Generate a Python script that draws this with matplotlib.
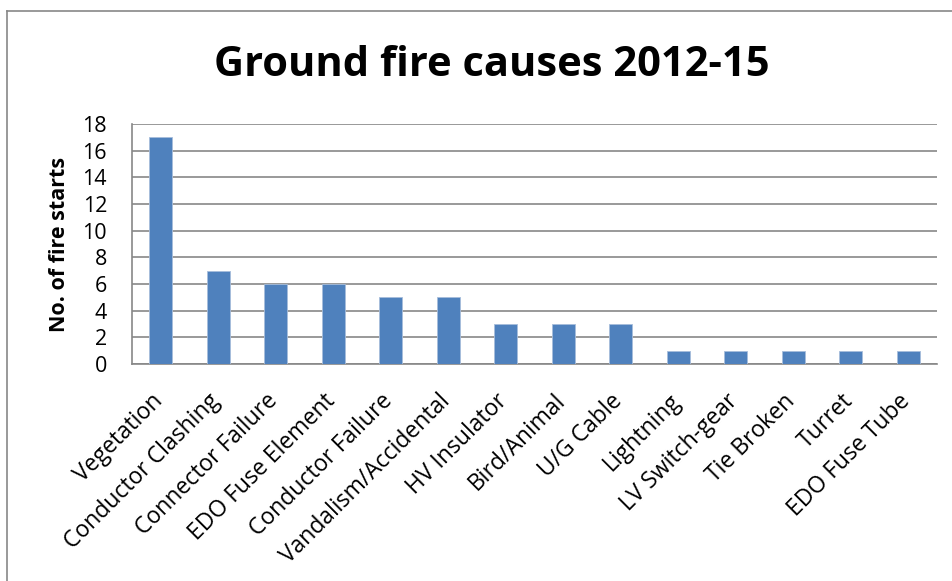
import matplotlib
matplotlib.use("Agg")
import matplotlib.pyplot as plt
from matplotlib.transforms import ScaledTranslation

categories = ["Vegetation", "Conductor Clashing", "Connector Failure", "EDO Fuse Element",
              "Conductor Failure", "Vandalism/Accidental", "HV Insulator", "Bird/Animal",
              "U/G Cable", "Lightning", "LV Switch-gear", "Tie Broken", "Turret", "EDO Fuse Tube"]
values = [17, 7, 6, 6, 5, 5, 3, 3, 3, 1, 1, 1, 1, 1]
yticks = list(range(0, 19, 2))

plt.rcParams['font.family'] = ['Open Sans', 'DejaVu Sans']

fig = plt.figure(figsize=(9.52, 5.81), dpi=100)
W, H = 952, 581
ax = fig.add_axes([132 / W, 1 - 364 / H, (937 - 132) / W, (364 - 124) / H])

x = list(range(len(categories)))
ax.bar(x, values, width=0.4, color='#4F81BD', edgecolor='#A7BDDB', linewidth=0.6, zorder=3)
ax.set_xlim(-0.5, len(categories) - 0.5)
ax.set_ylim(0, 18)
ax.set_yticks(yticks)
ax.set_yticklabels([str(t) for t in yticks], fontsize=15.5)
ax.yaxis.grid(True, color='#878787', linewidth=1.2, zorder=0)
ax.set_axisbelow(True)
ax.tick_params(axis='y', length=0, pad=18)
ax.tick_params(axis='x', length=0, pad=18)
ax.set_xticks(x)
ax.set_xticklabels(categories, rotation=45, ha='right', va='top', rotation_mode='anchor', fontsize=16.5)
offset = ScaledTranslation(-0.10, 0, fig.dpi_scale_trans)
for lbl in ax.get_xticklabels():
    lbl.set_transform(lbl.get_transform() + offset)
for s in ['top', 'right']:
    ax.spines[s].set_visible(False)
ax.spines['left'].set_color('#878787')
ax.spines['left'].set_linewidth(1.2)
ax.spines['bottom'].set_color('#878787')
ax.spines['bottom'].set_linewidth(1.2)

ax.set_ylabel("No. of fire starts", fontsize=15.5, fontweight='bold', labelpad=9)
fig.text(492 / W, 1 - 66 / H, "Ground fire causes 2012-15", fontsize=30, fontweight='bold',
         ha='center', va='center')

# chart border (left and top visible)
fig.add_artist(plt.Line2D([7 / W, 7 / W], [0, 1 - 11 / H], color='#878787', linewidth=1.2,
                          transform=fig.transFigure))
fig.add_artist(plt.Line2D([7 / W, 1], [1 - 11 / H, 1 - 11 / H], color='#878787', linewidth=1.2,
                          transform=fig.transFigure))

fig.savefig("out.png", dpi=100)
